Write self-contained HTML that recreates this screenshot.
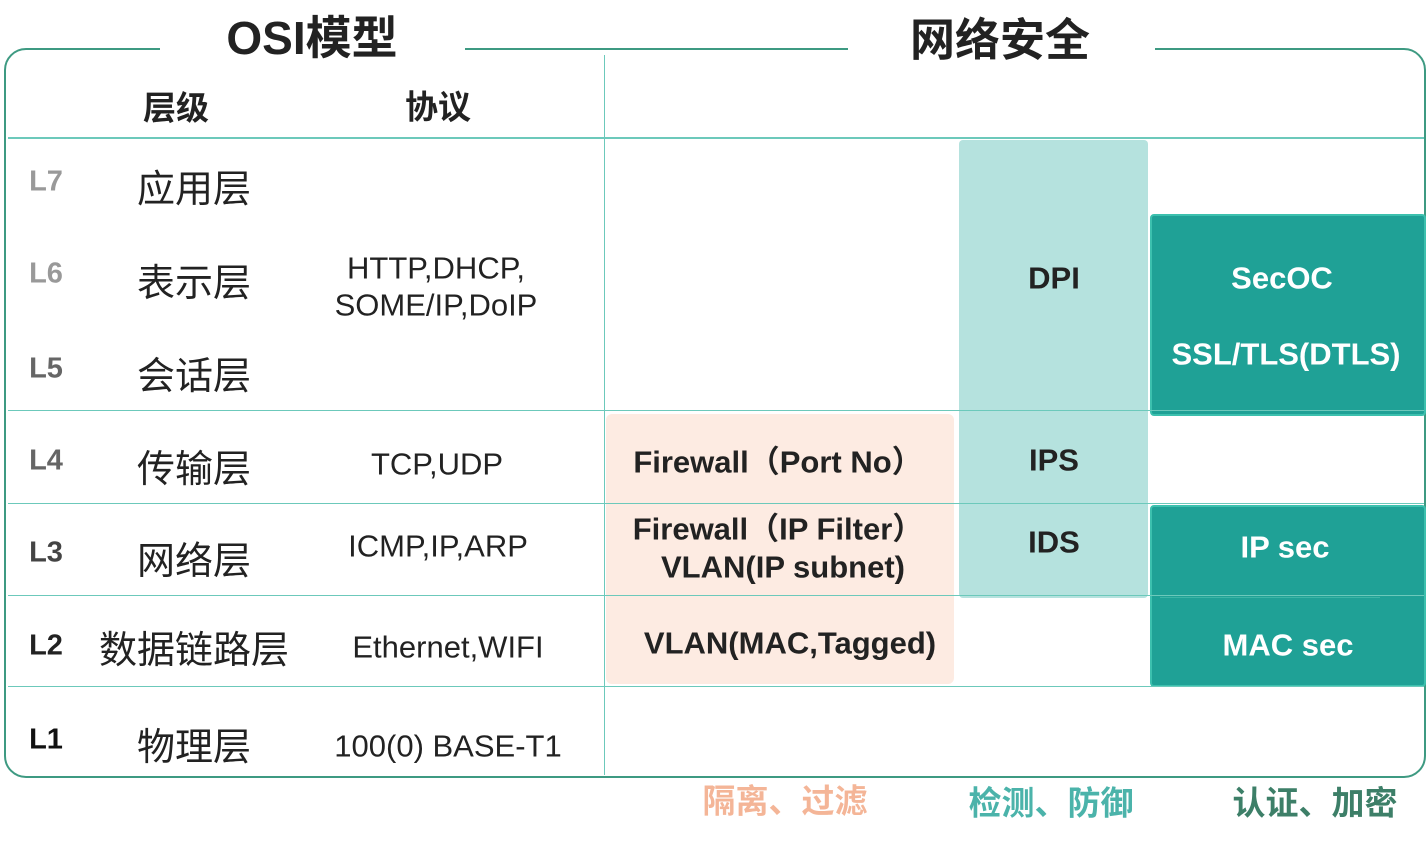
<!DOCTYPE html>
<html><head><meta charset="utf-8"><style>
body{margin:0;width:1428px;height:844px;background:#fff;position:relative;overflow:hidden;font-family:"Liberation Sans","Noto Sans CJK SC",sans-serif;}
.a{position:absolute;}
.t{position:absolute;white-space:nowrap;transform:translate(-50%,-50%);line-height:1;}
.h{position:absolute;left:8px;width:1416px;height:2px;background:#6cc9bb;}
.L{font-weight:bold;font-size:29px;}
.cn{font-size:38px;color:#222;}
.p{font-size:31px;color:#222;}
.b{font-weight:bold;font-size:31px;color:#222;}
.w{font-weight:bold;font-size:31px;color:#fff;}
</style></head><body>
<div class="a" style="left:4px;top:48px;width:1418px;height:726px;border:2px solid #3e9a82;border-radius:22px;"></div>
<div class="a" style="left:160px;top:40px;width:305px;height:16px;background:#fff"></div>
<div class="a" style="left:848px;top:40px;width:307px;height:16px;background:#fff"></div>
<div class="t" style="left:312px;top:38px;font-size:46px;font-weight:bold;color:#222">OSI模型</div>
<div class="t" style="left:1000px;top:40px;font-size:45px;font-weight:bold;color:#222">网络安全</div>
<div class="a" style="left:606px;top:414px;width:348px;height:270px;background:#fdebe2;border-radius:6px"></div>
<div class="a" style="left:959px;top:140px;width:189px;height:458px;background:#b5e2de;border-radius:4px"></div>
<div class="a" style="left:1150px;top:214px;width:276px;height:202px;background:#1fa196;border:2px solid #3cc0ae;box-sizing:border-box;border-radius:4px"></div>
<div class="a" style="left:1150px;top:505px;width:276px;height:182px;background:#1fa196;border:2px solid #3cc0ae;box-sizing:border-box;border-radius:4px"></div>
<div class="a" style="left:1160px;top:597px;width:220px;height:1px;background:#3cb5a6"></div>
<div class="a" style="left:604px;top:55px;width:1px;height:720px;background:#6cc9bb"></div>
<div class="h" style="top:137px"></div>
<div class="h" style="top:410px;height:1px"></div>
<div class="h" style="top:503px;height:1px"></div>
<div class="h" style="top:595px;height:1px"></div>
<div class="h" style="top:686px;height:1px"></div>
<div class="t" style="left:176px;top:108px;font-size:33px;font-weight:bold;color:#222">层级</div>
<div class="t" style="left:438px;top:107px;font-size:33px;font-weight:bold;color:#222">协议</div>
<div class="t L" style="left:46px;top:182px;color:#999">L7</div>
<div class="t L" style="left:46px;top:274px;color:#999">L6</div>
<div class="t L" style="left:46px;top:369px;color:#666">L5</div>
<div class="t L" style="left:46px;top:461px;color:#666">L4</div>
<div class="t L" style="left:46px;top:553px;color:#444">L3</div>
<div class="t L" style="left:46px;top:646px;color:#222">L2</div>
<div class="t L" style="left:46px;top:740px;color:#111">L1</div>
<div class="t cn" style="left:194px;top:190px">应用层</div>
<div class="t cn" style="left:194px;top:284px">表示层</div>
<div class="t cn" style="left:194px;top:377px">会话层</div>
<div class="t cn" style="left:194px;top:470px">传输层</div>
<div class="t cn" style="left:194px;top:562px">网络层</div>
<div class="t cn" style="left:194px;top:651px">数据链路层</div>
<div class="t cn" style="left:194px;top:748px">物理层</div>
<div class="t p" style="left:436px;top:268px">HTTP,DHCP,</div>
<div class="t p" style="left:436px;top:305px">SOME/IP,DoIP</div>
<div class="t p" style="left:437px;top:464px">TCP,UDP</div>
<div class="t p" style="left:438px;top:546px">ICMP,IP,ARP</div>
<div class="t p" style="left:448px;top:647px">Ethernet,WIFI</div>
<div class="t p" style="left:448px;top:746px">100(0) BASE-T1</div>
<div class="t b" style="left:778px;top:462px">Firewall（Port No）</div>
<div class="t b" style="left:778px;top:529px">Firewall（IP Filter）</div>
<div class="t b" style="left:783px;top:567px">VLAN(IP subnet)</div>
<div class="t b" style="left:790px;top:643px">VLAN(MAC,Tagged)</div>
<div class="t b" style="left:1054px;top:278px">DPI</div>
<div class="t b" style="left:1054px;top:460px">IPS</div>
<div class="t b" style="left:1054px;top:542px">IDS</div>
<div class="t w" style="left:1282px;top:278px">SecOC</div>
<div class="t w" style="left:1286px;top:354px">SSL/TLS(DTLS)</div>
<div class="t w" style="left:1285px;top:547px">IP sec</div>
<div class="t w" style="left:1288px;top:645px">MAC sec</div>
<div class="t" style="left:785px;top:801px;font-size:33px;font-weight:bold;color:#f4b597">隔离、过滤</div>
<div class="t" style="left:1051px;top:803px;font-size:33px;font-weight:bold;color:#4bb3aa">检测、防御</div>
<div class="t" style="left:1315px;top:803px;font-size:33px;font-weight:bold;color:#3d7f68">认证、加密</div>
</body></html>
